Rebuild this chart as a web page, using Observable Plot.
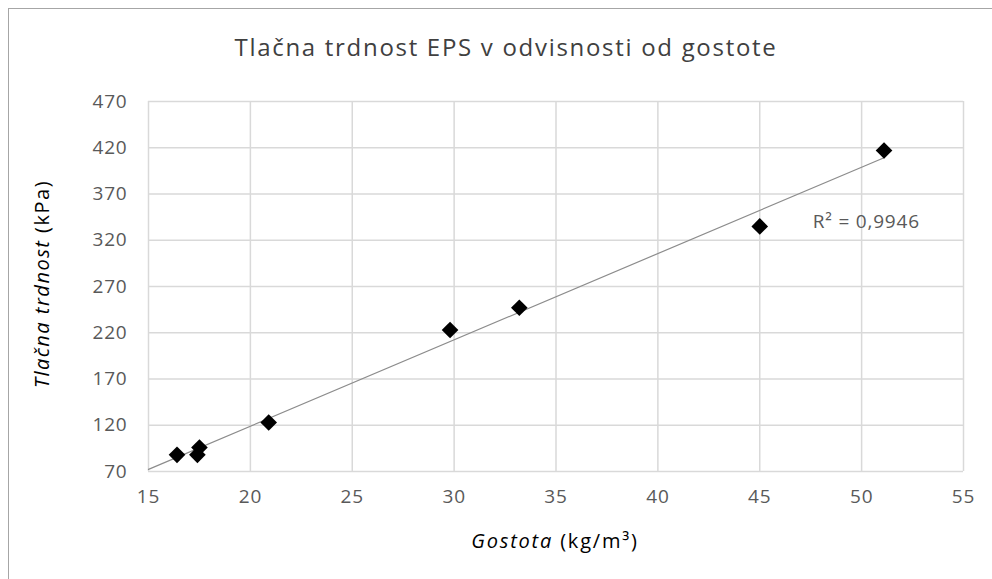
<!DOCTYPE html>
<html>
<head>
<meta charset="utf-8">
<script src="https://cdn.jsdelivr.net/npm/d3@7"></script>
<script src="https://cdn.jsdelivr.net/npm/@observablehq/plot@0.6"></script>
<style>
  html, body { margin: 0; padding: 0; background: #fff; }
  #wrap { position: relative; width: 992px; height: 579px; overflow: hidden; }
  #border { position: absolute; left: 8px; top: 8px; width: 1200px; height: 1200px; border: 1.5px solid #a6a6a6; box-sizing: border-box; }
  #title { position: absolute; left: 10px; width: 992px; top: 32px; text-align: center;
           font-family: "Open Sans", sans-serif; font-size: 24px; letter-spacing: 1.7px; color: #404040; line-height: 30px; }
  #chart { position: absolute; left: 0; top: 0; }
  #chart svg { font-family: "Open Sans", sans-serif; }
</style>
</head>
<body>
<div id="wrap">
  <div id="border"></div>
  <div id="chart"></div>
  <div id="title">Tlačna trdnost EPS v odvisnosti od gostote</div>
</div>
<script>
const gostota = [16.4, 17.4, 17.5, 20.9, 29.8, 33.2, 45.0, 51.1];
const trdnost = [88, 88, 96, 123, 223, 247, 335, 417];
const xTicks = [15, 20, 25, 30, 35, 40, 45, 50, 55];
const yTicks = [70, 120, 170, 220, 270, 320, 370, 420, 470];
const r2Label = "R² = 0,9946";

const data = gostota.map((g, i) => ({x: g, y: trdnost[i]}));

// least squares trendline
const mx = d3.mean(gostota), my = d3.mean(trdnost);
const slope = d3.sum(gostota, (g, i) => (g - mx) * (trdnost[i] - my)) / d3.sum(gostota, g => (g - mx) ** 2);
const icpt = my - slope * mx;
const x0 = xTicks[0], x1 = d3.max(gostota);
const trend = [{x: x0, y: icpt + slope * x0}, {x: x1, y: icpt + slope * x1}];

const plot = Plot.plot({
  width: 992,
  height: 579,
  marginLeft: 148,
  marginRight: 29,
  marginTop: 101,
  marginBottom: 108,
  style: {fontSize: "19px", color: "#595959", background: "transparent", overflow: "visible", letterSpacing: "0.8px"},
  x: {domain: [15, 55], ticks: xTicks, label: null},
  y: {domain: [70, 470], ticks: yTicks, label: null},
  marks: [
    Plot.gridX(xTicks, {stroke: "#d9d9d9", strokeOpacity: 1, strokeWidth: 1.5}),
    Plot.gridY(yTicks, {stroke: "#d9d9d9", strokeOpacity: 1, strokeWidth: 1.5}),
    Plot.axisX({ticks: xTicks, tickSize: 0, tickPadding: 18, fill: "#595959", label: null}),
    Plot.axisY({ticks: yTicks, tickSize: 0, tickPadding: 21, fill: "#595959", label: null}),
    Plot.line(trend, {x: "x", y: "y", stroke: "#8c8c8c", strokeWidth: 1.2}),
    Plot.dot(data, {x: "x", y: "y", symbol: "diamond2", r: 7.5, fill: "#000", stroke: "none"}),
    Plot.text([r2Label], {x: 47.6, y: 340, text: d => d, textAnchor: "start", fill: "#595959", fontSize: 19, letterSpacing: "1.4px"})
  ]
});

// axis titles with italic parts
const svg = d3.select(plot);
const xl = svg.append("text")
  .attr("x", 555).attr("y", 548).attr("text-anchor", "middle")
  .attr("fill", "#000").attr("font-size", "20px").attr("letter-spacing", "1.8px");
xl.append("tspan").attr("font-style", "italic").text("Gostota");
xl.append("tspan").text(" (kg/m³)");
const yl = svg.append("text")
  .attr("transform", "translate(49,284) rotate(-90)").attr("text-anchor", "middle")
  .attr("fill", "#000").attr("font-size", "20px").attr("letter-spacing", "1.5px");
yl.append("tspan").attr("font-style", "italic").text("Tlačna trdnost");
yl.append("tspan").text(" (kPa)");

document.getElementById("chart").appendChild(plot);
</script>
</body>
</html>
